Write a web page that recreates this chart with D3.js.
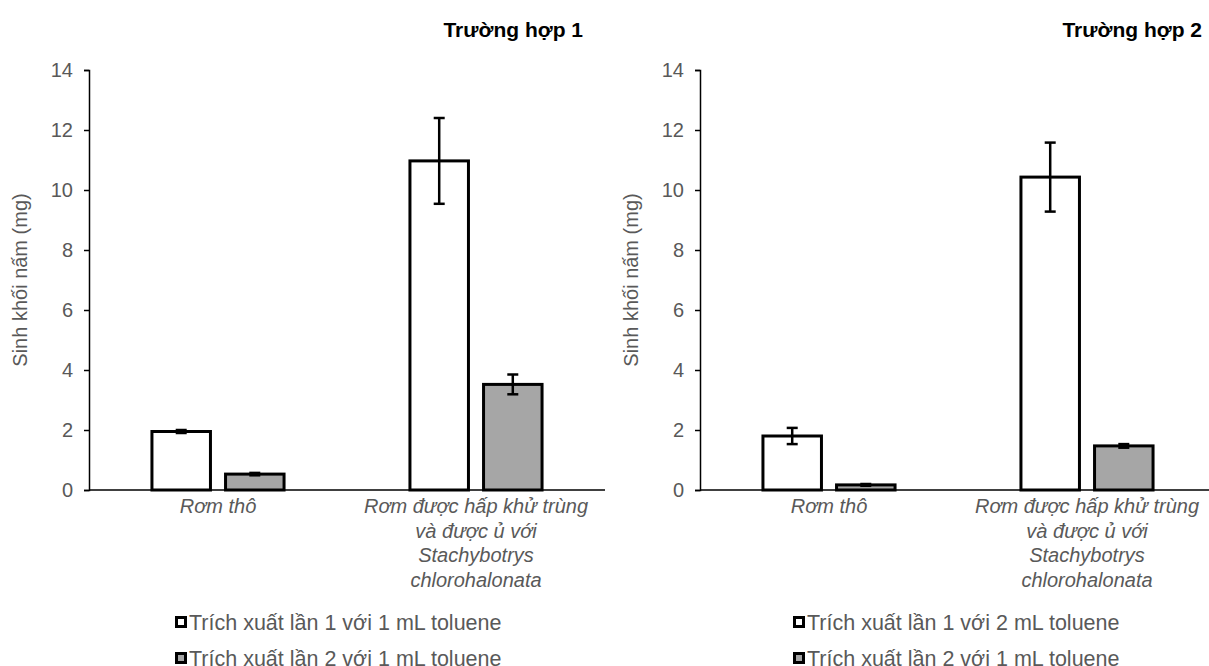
<!DOCTYPE html>
<html>
<head>
<meta charset="utf-8">
<script src="https://cdn.jsdelivr.net/npm/d3@7"></script>
<style>
  body { margin: 0; background: #fff; }
  svg { display: block; font-family: "Liberation Sans", Arial, sans-serif; }
</style>
</head>
<body>
<svg id="chart" width="1209" height="666"></svg>
<script>
// categories (each label split in lines as on the picture)
var categories = ["raw", "treated"];
var categoryLines = {
  raw: ["Rơm thô"],
  treated: ["Rơm được hấp khử trùng", "và được ủ với", "Stachybotrys", "chlorohalonata"]
};
var yTicks = [0, 2, 4, 6, 8, 10, 12, 14];

// Trường hợp 1
var case1Run1 = [1.95, 10.97];
var case1Run1Err = [0.05, 1.43];
var case1Run2 = [0.53, 3.52];
var case1Run2Err = [0.04, 0.33];

// Trường hợp 2
var case2Run1 = [1.80, 10.43];
var case2Run1Err = [0.27, 1.15];
var case2Run2 = [0.17, 1.47];
var case2Run2Err = [0.03, 0.06];

var svg = d3.select('#chart');
var textGrey = '#595959';

function drawPanel(opt) {
  var g = svg.append('g');
  var y = d3.scaleLinear().domain([0, 14]).range([490, 70]);
  var x0 = d3.scaleBand()
    .domain(categories)
    .range([opt.left, opt.left + 516])
    .paddingInner(0.488)
    .paddingOuter(0.244);
  var series = ['s1', 's2'];
  var x1 = d3.scaleBand()
    .domain(series)
    .range([0, x0.bandwidth()])
    .paddingInner(0.205);

  var rows = [];
  categories.forEach(function (c, i) {
    rows.push({ cat: c, key: 's1', v: opt.run1[i], e: opt.run1Err[i], fill: '#ffffff' });
    rows.push({ cat: c, key: 's2', v: opt.run2[i], e: opt.run2Err[i], fill: '#a6a6a6' });
  });

  // title
  g.append('text')
    .attr('x', opt.titleX)
    .attr('y', 37)
    .attr('text-anchor', 'end')
    .style('font-size', '21px')
    .style('font-weight', 'bold')
    .attr('fill', '#000')
    .text(opt.title);

  // y axis
  var yAxis = g.append('g')
    .attr('transform', 'translate(' + opt.left + ',0)')
    .call(d3.axisLeft(y).tickValues(yTicks).tickSize(5).tickPadding(11));
  yAxis.select('.domain').attr('stroke', '#000').attr('stroke-width', 1.5);
  yAxis.selectAll('.tick line').attr('stroke', '#000').attr('stroke-width', 1.5);
  yAxis.selectAll('.tick text')
    .attr('fill', textGrey)
    .style('font-size', '20px');

  g.append('text')
    .attr('transform', 'translate(' + (opt.left - 62) + ',280) rotate(-90)')
    .attr('text-anchor', 'middle')
    .style('font-size', '20px')
    .attr('fill', textGrey)
    .text('Sinh khối nấm (mg)');

  // bars
  g.selectAll('rect.bar')
    .data(rows)
    .enter()
    .append('rect')
    .classed('bar', true)
    .attr('x', function (d) { return x0(d.cat) + x1(d.key); })
    .attr('y', function (d) { return y(d.v); })
    .attr('width', x1.bandwidth())
    .attr('height', function (d) { return y(0) - y(d.v); })
    .attr('fill', function (d) { return d.fill; })
    .attr('stroke', '#000')
    .attr('stroke-width', 3);

  // x axis line
  g.append('line')
    .attr('x1', opt.left)
    .attr('x2', opt.left + 516)
    .attr('y1', y(0))
    .attr('y2', y(0))
    .attr('stroke', '#000')
    .attr('stroke-width', 1.5);

  // error bars
  var cx = function (d) { return x0(d.cat) + x1(d.key) + x1.bandwidth() / 2; };
  var eb = g.selectAll('g.err')
    .data(rows)
    .enter()
    .append('g')
    .classed('err', true)
    .attr('stroke', '#000')
    .attr('stroke-width', 2.5);
  eb.append('line')
    .attr('x1', cx).attr('x2', cx)
    .attr('y1', function (d) { return y(d.v + d.e); })
    .attr('y2', function (d) { return y(d.v - d.e); });
  eb.append('line')
    .attr('x1', function (d) { return cx(d) - 5.5; })
    .attr('x2', function (d) { return cx(d) + 5.5; })
    .attr('y1', function (d) { return y(d.v + d.e); })
    .attr('y2', function (d) { return y(d.v + d.e); });
  eb.append('line')
    .attr('x1', function (d) { return cx(d) - 5.5; })
    .attr('x2', function (d) { return cx(d) + 5.5; })
    .attr('y1', function (d) { return y(d.v - d.e); })
    .attr('y2', function (d) { return y(d.v - d.e); });

  // category labels
  categories.forEach(function (c) {
    var t = g.append('text')
      .attr('text-anchor', 'middle')
      .attr('fill', textGrey)
      .style('font-size', '20px')
      .style('font-style', 'italic');
    categoryLines[c].forEach(function (line, i) {
      t.append('tspan')
        .attr('x', x0(c) + x0.bandwidth() / 2)
        .attr('y', 513 + i * 24.5)
        .text(line);
    });
  });

  // legend
  var legend = [
    { label: opt.legend1, fill: '#ffffff' },
    { label: opt.legend2, fill: '#a6a6a6' }
  ];
  var lg = g.selectAll('g.legend')
    .data(legend)
    .enter()
    .append('g')
    .classed('legend', true)
    .attr('transform', function (d, i) { return 'translate(' + opt.legendX + ',' + (622 + i * 36) + ')'; });
  lg.append('rect')
    .attr('x', 1.5).attr('y', -4.5)
    .attr('width', 9).attr('height', 9)
    .attr('fill', function (d) { return d.fill; })
    .attr('stroke', '#000')
    .attr('stroke-width', 3);
  lg.append('text')
    .attr('x', 14)
    .attr('y', 7.5)
    .attr('fill', textGrey)
    .style('font-size', '21.5px')
    .text(function (d) { return d.label; });
}

drawPanel({
  left: 89, titleX: 583, title: 'Trường hợp 1', legendX: 175,
  run1: case1Run1, run1Err: case1Run1Err, run2: case1Run2, run2Err: case1Run2Err,
  legend1: 'Trích xuất lần 1 với 1 mL toluene',
  legend2: 'Trích xuất lần 2 với 1 mL toluene'
});
drawPanel({
  left: 700, titleX: 1202, title: 'Trường hợp 2', legendX: 793,
  run1: case2Run1, run1Err: case2Run1Err, run2: case2Run2, run2Err: case2Run2Err,
  legend1: 'Trích xuất lần 1 với 2 mL toluene',
  legend2: 'Trích xuất lần 2 với 1 mL toluene'
});
</script>
</body>
</html>
